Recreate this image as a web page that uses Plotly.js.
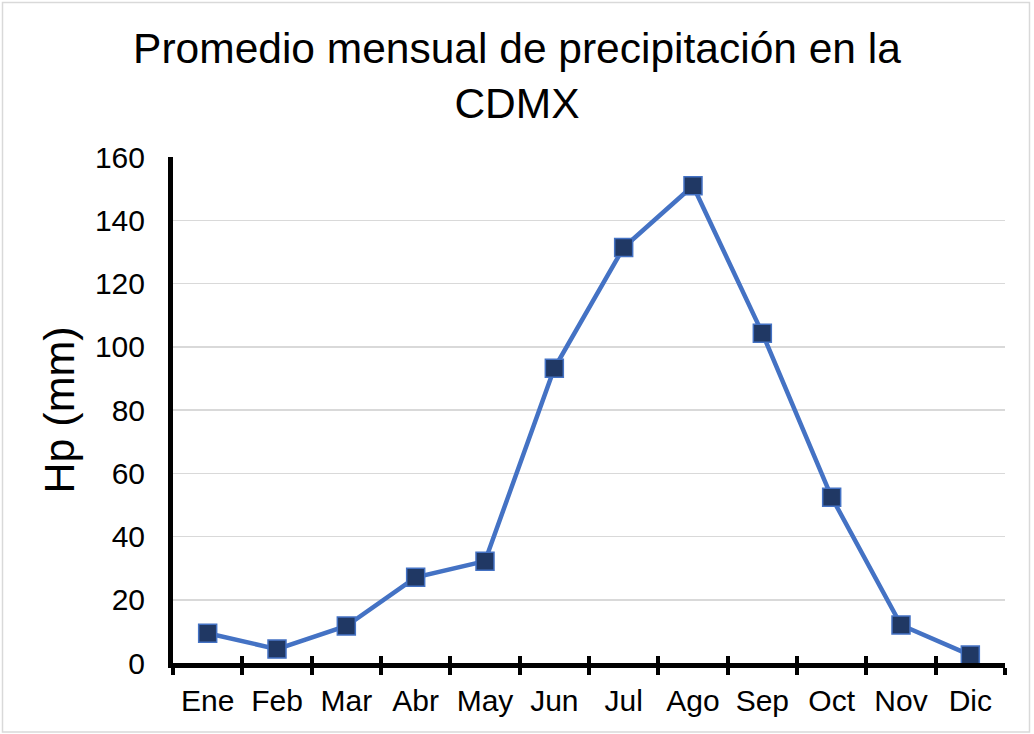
<!DOCTYPE html>
<html>
<head>
<meta charset="utf-8">
<script src="https://cdn.plot.ly/plotly-3.0.1.min.js"></script>
<style>
  html, body { margin: 0; padding: 0; background: #ffffff; }
  #chart { width: 1034px; height: 734px; }
</style>
</head>
<body>
<div id="chart"></div>
<script>
// Data
const months = ["Ene", "Feb", "Mar", "Abr", "May", "Jun", "Jul", "Ago", "Sep", "Oct", "Nov", "Dic"];
const precipitation = [9.4, 4.4, 11.7, 27.1, 32.2, 93.2, 131.4, 150.9, 104.3, 52.4, 12.0, 2.5];
const yTicks = [0, 20, 40, 60, 80, 100, 120, 140, 160];

const chartTitle = "Promedio mensual de precipitación en la<br>CDMX";
const yTitle = "Hp (mm)";

const W = 1034, H = 734;
const M = { l: 173, r: 29, t: 157, b: 71 };
const pw = W - M.l - M.r, ph = H - M.t - M.b;
const px2x = p => (p - M.l) / pw;
const py2y = p => (H - M.b - p) / ph;

const font = "Arial, 'Liberation Sans', sans-serif";

const traces = [
  {
    type: "scatter",
    mode: "lines+markers",
    x: months,
    y: precipitation,
    line: { color: "#4472C4", width: 4.5 },
    marker: { symbol: "square", size: 18, color: "#203864", line: { color: "#4472C4", width: 1.5 } },
    cliponaxis: false,
    showlegend: false,
    hoverinfo: "x+y"
  },
  {
    type: "scatter",
    mode: "markers",
    x: months,
    y: precipitation,
    xaxis: "x2",
    marker: { opacity: 0 },
    showlegend: false,
    hoverinfo: "skip"
  }
];

const layout = {
  width: W,
  height: H,
  margin: M,
  paper_bgcolor: "#ffffff",
  plot_bgcolor: "#ffffff",
  font: { family: font, color: "#000000" },
  title: {
    text: chartTitle,
    font: { family: font, size: 42.5, color: "#000000" },
    xref: "container",
    x: 0.5,
    xanchor: "center",
    yref: "container",
    y: 1 - 63 / H,
    yanchor: "top"
  },
  xaxis: {
    type: "category",
    categoryorder: "array",
    categoryarray: months,
    range: [-0.5, months.length - 0.5],
    showline: true,
    linecolor: "#000000",
    linewidth: 5,
    ticks: "outside",
    tickson: "boundaries",
    ticklen: 7,
    tickwidth: 4,
    tickcolor: "#000000",
    showgrid: false,
    zeroline: false,
    tickfont: { family: font, size: 30, color: "#000000" },
    ticklabelstandoff: 7,
    fixedrange: true
  },
  xaxis2: {
    type: "category",
    categoryorder: "array",
    categoryarray: months,
    range: [-0.5, months.length - 0.5],
    overlaying: "x",
    anchor: "y",
    side: "bottom",
    showline: false,
    ticks: "inside",
    tickson: "boundaries",
    ticklen: 7,
    tickwidth: 4,
    tickcolor: "#000000",
    showticklabels: false,
    showgrid: false,
    zeroline: false,
    fixedrange: true
  },
  yaxis: {
    range: [0, 160],
    tickmode: "array",
    tickvals: yTicks,
    ticktext: yTicks.map(String),
    showline: true,
    linecolor: "#000000",
    linewidth: 5,
    ticks: "",
    showgrid: true,
    gridcolor: "#d9d9d9",
    gridwidth: 1.5,
    zeroline: false,
    tickfont: { family: font, size: 30, color: "#000000" },
    ticklabelstandoff: 17,
    title: {
      text: yTitle,
      font: { family: font, size: 43, color: "#000000" },
      standoff: 8
    },
    fixedrange: true
  },
  shapes: [
    {
      type: "rect",
      xref: "paper",
      yref: "paper",
      x0: px2x(2.5),
      x1: px2x(1029.5),
      y0: py2y(732),
      y1: py2y(2.5),
      line: { color: "#d9d9d9", width: 1.5 },
      fillcolor: "rgba(0,0,0,0)",
      layer: "below"
    }
  ]
};

Plotly.newPlot("chart", traces, layout, { displayModeBar: false, staticPlot: true });
</script>
</body>
</html>
